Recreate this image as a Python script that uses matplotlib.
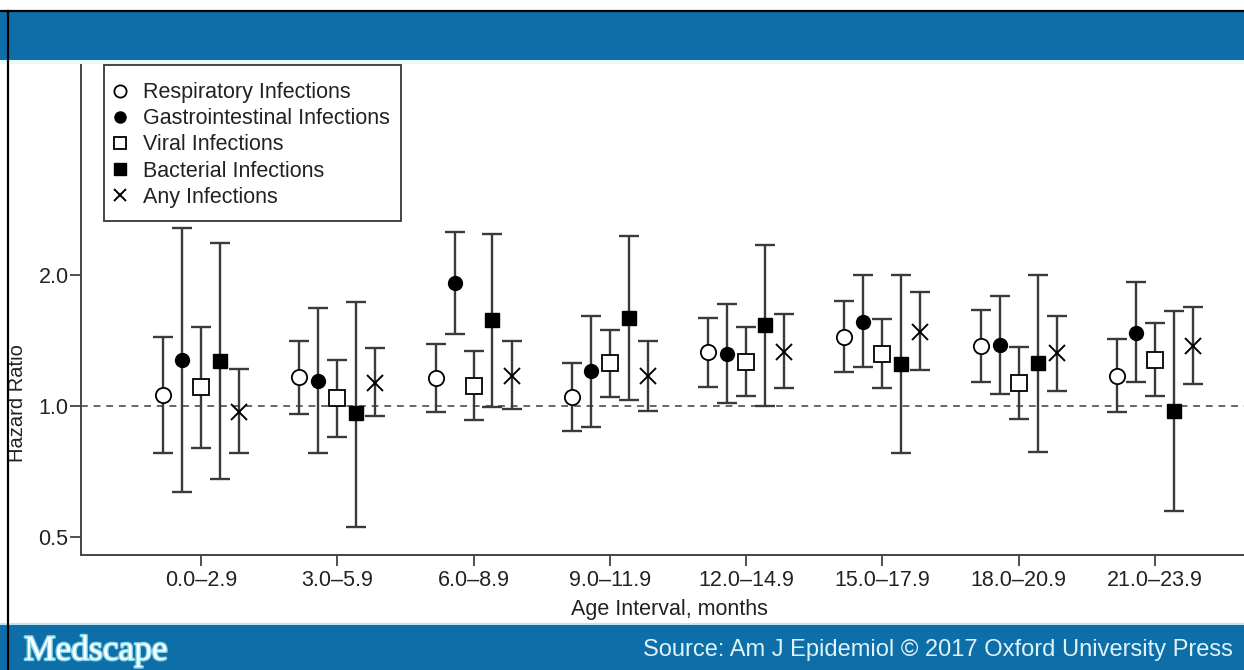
import matplotlib
matplotlib.use("Agg")
import matplotlib.pyplot as plt
from matplotlib.patches import Rectangle
from matplotlib.lines import Line2D
import matplotlib.patheffects as pe
import numpy as np

categories = ['0.0–2.9', '3.0–5.9', '6.0–8.9', '9.0–11.9', '12.0–14.9',
              '15.0–17.9', '18.0–20.9', '21.0–23.9']

resp_hr = [1.06, 1.165, 1.162, 1.05, 1.33, 1.445, 1.378, 1.175]
resp_lo = [0.78, 0.958, 0.969, 0.876, 1.108, 1.196, 1.134, 0.967]
resp_hi = [1.44, 1.415, 1.39, 1.26, 1.60, 1.75, 1.665, 1.43]

gi_hr = [1.28, 1.14, 1.92, 1.204, 1.32, 1.565, 1.38, 1.476]
gi_lo = [0.634, 0.78, 1.466, 0.896, 1.018, 1.228, 1.066, 1.134]
gi_hi = [2.58, 1.68, 2.52, 1.61, 1.72, 2.0, 1.79, 1.93]

viral_hr = [1.108, 1.045, 1.114, 1.255, 1.265, 1.32, 1.128, 1.28]
viral_lo = [0.80, 0.85, 0.927, 1.05, 1.056, 1.10, 0.932, 1.056]
viral_hi = [1.52, 1.28, 1.34, 1.50, 1.52, 1.59, 1.366, 1.55]

bact_hr = [1.27, 0.962, 1.58, 1.60, 1.535, 1.25, 1.255, 0.975]
bact_lo = [0.68, 0.527, 0.996, 1.03, 1.0, 0.78, 0.785, 0.574]
bact_hi = [2.38, 1.74, 2.49, 2.47, 2.35, 2.0, 2.01, 1.66]

any_hr = [0.97, 1.13, 1.17, 1.17, 1.33, 1.48, 1.327, 1.375]
any_lo = [0.78, 0.95, 0.984, 0.972, 1.10, 1.21, 1.083, 1.124]
any_hi = [1.22, 1.36, 1.415, 1.41, 1.63, 1.83, 1.615, 1.69]

series_names = ['Respiratory Infections', 'Gastrointestinal Infections',
                'Viral Infections', 'Bacterial Infections', 'Any Infections']
yticks = [0.5, 1.0, 2.0]
ytick_labels = ['0.5', '1.0', '2.0']

plt.rcParams['font.family'] = ['Liberation Sans', 'DejaVu Sans']

W, H = 1244, 670
fig = plt.figure(figsize=(W / 100, H / 100), dpi=100)
fig.patch.set_facecolor('white')

ax_left, ax_right, ax_bottom, ax_top = 81, 1244, 555, 60
ax = fig.add_axes([ax_left / W, 1 - ax_bottom / H, (ax_right - ax_left) / W,
                   (ax_bottom - ax_top) / H])

ax.set_yscale('log', base=2)
ax.set_ylim(0.4534, 6.28)
ax.set_xlim(0.12, 8.653)

x = np.arange(1, len(categories) + 1)
offsets = [-0.279, -0.139, 0.0, 0.139, 0.279]
styles = [
    dict(marker='o', mfc='white', mec='black', ms=11, mew=1.3),
    dict(marker='o', mfc='black', mec='black', ms=10, mew=1.0),
    dict(marker='s', mfc='white', mec='black', ms=11, mew=1.3),
    dict(marker='s', mfc='black', mec='black', ms=10.5, mew=1.0),
    dict(marker='x', mfc='black', mec='black', ms=11.5, mew=1.4),
]
all_data = [(resp_hr, resp_lo, resp_hi), (gi_hr, gi_lo, gi_hi),
            (viral_hr, viral_lo, viral_hi), (bact_hr, bact_lo, bact_hi),
            (any_hr, any_lo, any_hi)]

ax.axhline(1.0, color='#666666', lw=1.4, ls=(0, (3.5, 3)), zorder=1)

handles = []
for (hr, lo, hi), off, st, name in zip(all_data, offsets, styles, series_names):
    hr = np.array(hr); lo = np.array(lo); hi = np.array(hi)
    ax.errorbar(x + off, hr, yerr=[hr - lo, hi - hr], fmt='none',
                ecolor='#3a3a3a', elinewidth=1.7, capsize=7, capthick=1.7,
                zorder=2)
    ax.plot(x + off, hr, ls='none', zorder=3, **st)
    hst = dict(st)
    hst['ms'] = st['ms'] * 0.8
    handles.append(Line2D([], [], ls='none', label=name, **hst))

ax.set_yticks(yticks)
ax.set_yticklabels(ytick_labels)
ax.yaxis.set_minor_locator(matplotlib.ticker.NullLocator())
ax.set_xticks(x)
ax.set_xticklabels(categories)
ax.tick_params(axis='both', labelsize=15.5, colors='#222222', length=8,
               width=1.1, direction='out')
ax.tick_params(axis='x', pad=3)
ax.tick_params(axis='y', pad=1)

for s in ['top', 'right']:
    ax.spines[s].set_visible(False)
for s in ['left', 'bottom']:
    ax.spines[s].set_color('#444444')
    ax.spines[s].set_linewidth(1.4)

fig.text(669 / W, 1 - 609 / H, 'Age Interval, months', ha='center',
         va='center', fontsize=15.5, color='#222222')
fig.text(18 / W, 1 - 403 / H, 'Hazard Ratio', ha='center', va='center',
         rotation=90, fontsize=14.5, color='#222222')

# Legend frame drawn separately for exact placement
fig.add_artist(Rectangle((104 / W, 1 - 221 / H), (401 - 104) / W, (221 - 65) / H,
                         transform=fig.transFigure, facecolor='white',
                         edgecolor='#444444', linewidth=1.4, zorder=4))
leg = fig.legend(handles=handles, loc='center left',
                 bbox_to_anchor=(111.4 / W, 1 - 145 / H), borderaxespad=0,
                 frameon=False, fontsize=15.5, borderpad=0,
                 handlelength=0.8, handletextpad=0.67, labelspacing=0.24)
leg.set_zorder(5)
for t in leg.get_texts():
    t.set_color('#222222')

# Banners and borders
blue = '#0e6fa8'
fig.add_artist(Rectangle((0, 1 - 60 / H), 1, 48 / H, transform=fig.transFigure,
                         facecolor=blue, edgecolor='none', zorder=10))
fig.add_artist(Rectangle((0, 1 - 64 / H), 1, 4 / H, transform=fig.transFigure,
                         facecolor='#e8f8fb', edgecolor='none', zorder=10))
fig.add_artist(Rectangle((0, 0), 1, 45 / H, transform=fig.transFigure,
                         facecolor=blue, edgecolor='none', zorder=10))
fig.add_artist(Rectangle((0, 45 / H), 1, 2 / H, transform=fig.transFigure,
                         facecolor='#bfe6f0', edgecolor='none', zorder=10))
fig.add_artist(Line2D([0, 1], [1 - 11 / H, 1 - 11 / H], transform=fig.transFigure,
                      color='black', lw=1.6, zorder=11))
fig.add_artist(Line2D([8 / W, 8 / W], [0, 1 - 11 / H], transform=fig.transFigure,
                      color='black', lw=1.6, zorder=11))

fig.text(24 / W, 1 - 651 / H, 'Medscape', fontsize=25.5, color='white',
         family=['Liberation Serif', 'DejaVu Serif'], ha='left', va='center',
         zorder=12,
         path_effects=[pe.withStroke(linewidth=2, foreground='#7fd3ea')])
fig.text(643 / W, 1 - 650 / H,
         'Source: Am J Epidemiol © 2017 Oxford University Press',
         fontsize=17, color='#dff3fb', ha='left', va='center', zorder=12)

fig.savefig('out.png', dpi=100, facecolor='white')
